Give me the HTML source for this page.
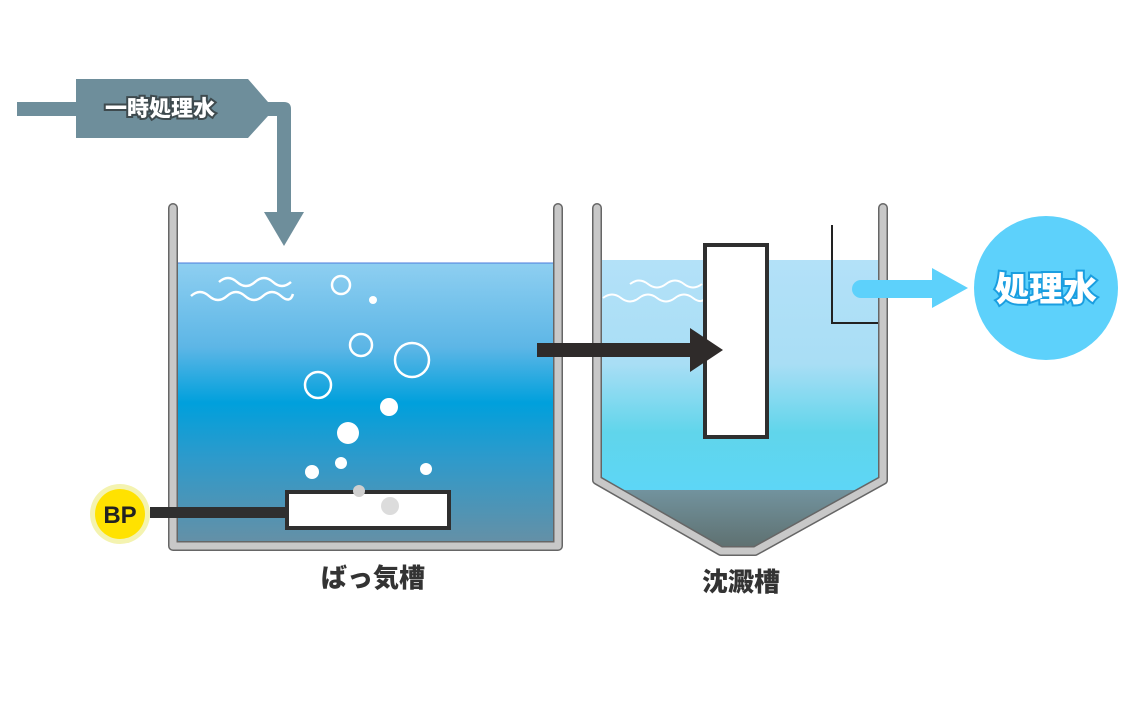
<!DOCTYPE html>
<html><head><meta charset="utf-8"><style>
html,body{margin:0;padding:0;background:#fff;width:1140px;height:706px;overflow:hidden}
svg{display:block}
</style></head><body>
<svg width="1140" height="706" viewBox="0 0 1140 706" xmlns="http://www.w3.org/2000/svg">
<defs>
<linearGradient id="g1" x1="0" y1="0" x2="0" y2="1">
<stop offset="0" stop-color="#8ecff1"/>
<stop offset="0.3" stop-color="#5db6e6"/>
<stop offset="0.5" stop-color="#00a0dc"/>
<stop offset="0.7" stop-color="#2e9acb"/>
<stop offset="1" stop-color="#6590a6"/>
</linearGradient>
<linearGradient id="g2" x1="0" y1="0" x2="0" y2="1">
<stop offset="0" stop-color="#b3e1f8"/>
<stop offset="0.45" stop-color="#a9def5"/>
<stop offset="0.75" stop-color="#60d5eb"/>
<stop offset="1" stop-color="#5dd6f6"/>
</linearGradient>
<linearGradient id="g3" x1="0" y1="0" x2="0" y2="1">
<stop offset="0" stop-color="#72939e"/>
<stop offset="1" stop-color="#5e7070"/>
</linearGradient>
</defs>

<!-- inlet -->
<rect x="17" y="102" width="70" height="14" fill="#6e8e9b"/>
<polygon points="76,79 248,79 268,102 268,116 248,138 76,138" fill="#6e8e9b"/>
<path d="M262,102 H284 Q291,102 291,109 V212 H277 V116 H262 Z" fill="#6e8e9b"/>
<polygon points="264,212 304,212 284,246" fill="#6e8e9b"/>
<text x="160" y="116" text-anchor="middle" font-family="Liberation Sans,'Noto Sans CJK JP',sans-serif" font-weight="900" font-size="22" fill="#fff" stroke="#3e4a4e" stroke-width="4" paint-order="stroke">一時処理水</text>

<!-- left tank -->
<rect x="177" y="263" width="380" height="280" fill="url(#g1)" stroke="#4a7bdc" stroke-width="1"/>
<path d="M173,208 V546 H558 V208" fill="none" stroke="#666" stroke-width="10" stroke-linecap="round" stroke-linejoin="round"/>
<path d="M173,208 V546 H558 V208" fill="none" stroke="#c8c8c8" stroke-width="7" stroke-linecap="round" stroke-linejoin="round"/>
<g fill="none" stroke="#fff" stroke-width="2.5">
<path d="M219,282 q9,-8 18,0 t18,0 t18,0 t18,0"/>
<path d="M191,296 q9,-8 18,0 t18,0 t18,0 t18,0 t18,0 t12,-2"/>
<circle cx="341" cy="285" r="9"/>
<circle cx="361" cy="345" r="11"/>
<circle cx="412" cy="360" r="17"/>
<circle cx="318" cy="385" r="13"/>
</g>
<g fill="#fff">
<circle cx="373" cy="300" r="4"/>
<circle cx="389" cy="407" r="9"/>
<circle cx="348" cy="433" r="11"/>
<circle cx="341" cy="463" r="6"/>
<circle cx="312" cy="472" r="7"/>
<circle cx="426" cy="469" r="6"/>
</g>
<rect x="150" y="507" width="140" height="11" fill="#2f2f2f"/>
<rect x="287" y="492" width="162" height="36" fill="#fff" stroke="#2f2f2f" stroke-width="4"/>
<circle cx="359" cy="491" r="6" fill="#cfcfcf"/>
<circle cx="390" cy="506" r="9" fill="#dcdcdc"/>
<circle cx="120" cy="514" r="30" fill="#f4f3b0"/>
<circle cx="120" cy="514" r="25" fill="#ffe200"/>
<text x="120" y="523" text-anchor="middle" font-family="Liberation Sans,sans-serif" font-weight="bold" font-size="24" fill="#222">BP</text>

<!-- right tank -->
<path d="M601,260 H878 V480 L860,490 H619 L601,480 Z" fill="url(#g2)"/>
<polygon points="619,490 860,490 755,548 720,548" fill="url(#g3)"/>
<path d="M597,208 V480 L721,551 H755 L883,480 V208" fill="none" stroke="#666" stroke-width="10" stroke-linecap="round" stroke-linejoin="round"/>
<path d="M597,208 V480 L721,551 H755 L883,480 V208" fill="none" stroke="#c8c8c8" stroke-width="7" stroke-linecap="round" stroke-linejoin="round"/>
<g fill="none" stroke="#fff" stroke-width="2">
<path d="M630,284 q9,-7 18,0 t18,0 t18,0 t18,0"/>
<path d="M603,298 q9,-7 18,0 t18,0 t18,0 t18,0 t18,0 t14,-2"/>
</g>
<rect x="705" y="245" width="62" height="192" fill="#fff" stroke="#2f2f2f" stroke-width="4"/>
<path d="M832,225 V323 H878" fill="none" stroke="#222" stroke-width="2"/>

<!-- dark arrow -->
<rect x="537" y="343" width="156" height="14" fill="#2f2b2a"/>
<polygon points="690,328 723,350 690,372" fill="#2f2b2a"/>

<!-- outlet arrow -->
<path d="M861,280 H935 V298 H861 A9,9 0 0 1 861,280 Z" fill="#5dd1fb"/>
<polygon points="932,268 968,288 932,308" fill="#5dd1fb"/>
<circle cx="1046" cy="288" r="72" fill="#5dd1fb"/>
<text x="1046" y="301" text-anchor="middle" font-family="Liberation Sans,'Noto Sans CJK JP',sans-serif" font-weight="900" font-size="34" fill="#fff" stroke="#1a9ee0" stroke-width="4" paint-order="stroke">処理水</text>

<!-- labels -->
<text x="373" y="587" text-anchor="middle" font-family="Liberation Sans,'Noto Sans CJK JP',sans-serif" font-weight="900" font-size="26" fill="#333">ばっ気槽</text>
<text x="741" y="591" text-anchor="middle" font-family="Liberation Sans,'Noto Sans CJK JP',sans-serif" font-weight="900" font-size="26" fill="#333">沈澱槽</text>
</svg>
</body></html>
